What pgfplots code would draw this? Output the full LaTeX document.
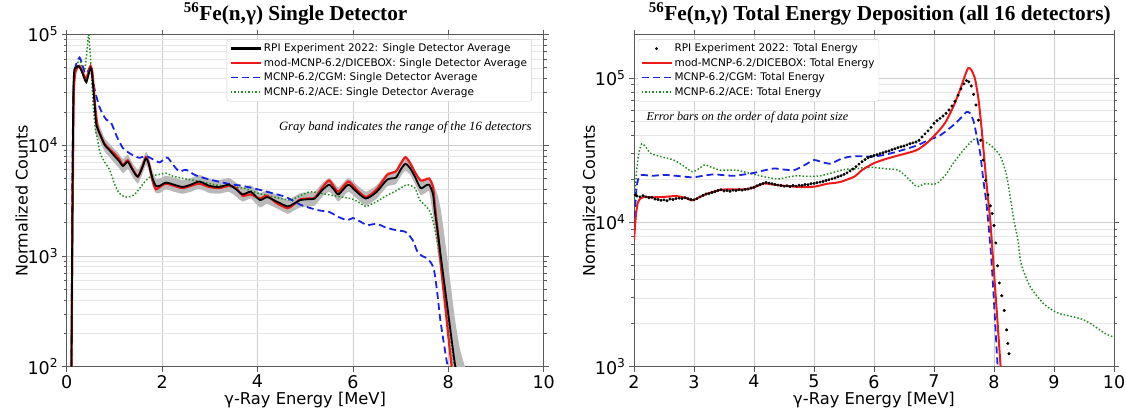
\documentclass[border=0pt]{standalone}
\usepackage{fontspec}
\setmainfont{DejaVu Sans}
\newfontfamily\titlefont{Liberation Serif}
\usepackage{pgfplots}
\pgfplotsset{compat=1.18}

\definecolor{mplred}{RGB}{240,25,25}
\definecolor{mplblue}{RGB}{25,35,230}
\definecolor{mplgreen}{RGB}{30,140,30}
\definecolor{gridmaj}{RGB}{205,205,205}
\definecolor{gridmin}{RGB}{230,230,230}
\definecolor{bandgray}{RGB}{185,185,185}

\tikzset{
  cgmline/.style={color=mplblue, line width=1.8pt, dash pattern=on 7pt off 4pt},
  aceline/.style={color=mplgreen, line width=1.5pt, dash pattern=on 1.5pt off 2pt},
}

\pgfplotsset{
  every axis/.append style={
  scale only axis, height=332.2pt,
  axis line style={draw=black!65, line width=0.8pt},
  tick align=outside,
  major tick length=5pt, minor tick length=3pt,
  every tick/.style={black!65, line width=0.7pt},
  xmajorgrids, ymajorgrids, yminorgrids,
  major grid style={gridmaj, line width=0.7pt},
  minor grid style={gridmin, line width=0.6pt},
  ticklabel style={font=\fontsize{17.5}{17.5}\selectfont},
  xlabel style={font=\fontsize{16.3}{16.3}\selectfont, yshift=3pt},
  ylabel style={font=\fontsize{16}{16}\selectfont, yshift=-7pt},
  xlabel={γ-Ray Energy [MeV]},
  ylabel={Normalized Counts},
  /pgf/number format/assume math mode=true,
  legend cell align=left,
  legend style={font=\fontsize{10.5}{12}\selectfont, draw=black!20, rounded corners=2pt, fill=white, inner sep=2.5pt, row sep=1pt},
  title style={font=\titlefont\bfseries\fontsize{21.3}{22}\selectfont, anchor=south, yshift=0pt},
  },
  legend image code/.code={\draw[mark repeat=2,mark phase=2,#1] plot coordinates {(0pt,0pt) (15pt,0pt) (30pt,0pt)};},
}

\begin{document}
\begin{tikzpicture}
\path[use as bounding box] (0,0) rectangle (1126pt,407pt);

% ---------------- Left axis ----------------
\begin{axis}[ymode=log, at={(66.7pt,40.3pt)}, anchor=south west, width=477pt,
  xmin=0, xmax=10, ymin=100, ymax=1e5, xtick={0,2,4,6,8,10},
  yticklabel={10\textsuperscript{\pgfmathparse{int(round(\tick/2.302585))}\pgfmathresult}},
  title={\textsuperscript{56}Fe(n,γ) Single Detector},
  title style={at={(0.48,1)}},
  legend style={at={(0.975,0.986)}, anchor=north east}]
\addlegendimage{color=black, line width=2.5pt}
\addlegendentry{RPI Experiment 2022: Single Detector Average}
\addlegendimage{color=mplred, line width=2.5pt}
\addlegendentry{mod-MCNP-6.2/DICEBOX: Single Detector Average}
\addlegendimage{cgmline}
\addlegendentry{MCNP-6.2/CGM: Single Detector Average}
\addlegendimage{aceline}
\addlegendentry{MCNP-6.2/ACE: Single Detector Average}

% gray band (range of 16 detectors)
\addplot[fill=bandgray, draw=none, forget plot, smooth, tension=0.3] coordinates {
(0.6,19000) (0.7,14500) (0.8,11500) (0.9,10300) (1.0,9200) (1.1,8300) (1.18,7500) (1.28,8200) (1.38,6900) (1.49,6000) (1.58,7100) (1.66,8700) (1.72,7800) (1.8,5800) (1.87,5000) (1.95,5000) (2.08,5300) (2.25,5100) (2.43,4850) (2.6,5050) (2.78,5400) (2.99,4950) (3.2,4850) (3.4,5050) (3.55,4600) (3.69,4150) (3.86,4350) (4.05,3700) (4.2,3900) (4.4,3550) (4.63,3200) (4.75,3400) (4.9,3700) (5.05,3750) (5.2,3800) (5.35,4500) (5.5,5050) (5.62,4500) (5.7,4150) (5.9,5050) (6.05,4500) (6.27,3800) (6.5,4350) (6.72,5650) (6.9,5850) (7.0,6900) (7.1,7800) (7.2,7100) (7.3,6000) (7.42,4700) (7.52,4950) (7.6,5050) (7.7,4300) (7.78,3500) (7.85,2500) (7.95,1200) (8.05,550) (8.15,250) (8.25,140) (8.35,100) (8.36,90)
(8.1,90) (8.05,150) (7.95,330) (7.85,700) (7.78,1050) (7.7,2000) (7.6,3800) (7.52,3700) (7.42,3550) (7.3,4500) (7.2,5400) (7.1,5900) (7.0,5200) (6.9,4450) (6.72,4250) (6.5,3300) (6.27,2850) (6.05,3400) (5.9,3800) (5.7,3100) (5.62,3400) (5.5,3800) (5.35,3400) (5.2,2850) (5.05,2800) (4.9,2750) (4.75,2550) (4.63,2400) (4.4,2700) (4.2,2950) (4.05,2750) (3.86,3300) (3.69,3100) (3.55,3450) (3.4,3800) (3.2,3650) (2.99,3700) (2.78,4050) (2.6,3800) (2.43,3650) (2.25,3800) (2.08,4000) (1.95,3700) (1.87,3700) (1.8,4300) (1.72,5900) (1.66,6600) (1.58,5400) (1.49,4500) (1.38,5200) (1.28,6100) (1.18,5600) (1.1,6200) (1.0,6900) (0.9,7800) (0.8,8700) (0.7,10800) (0.6,13000) (0.6,19000)
};

% green ACE
\addplot[aceline, forget plot, smooth, tension=0.4] coordinates {
(0.1,100) (0.12,5000) (0.14,30000) (0.18,50000) (0.23,55000) (0.27,60000) (0.32,52000) (0.38,48000) (0.43,75000) (0.46,100000) (0.5,60000) (0.55,25000) (0.6,14000) (0.65,11000) (0.7,8500) (0.8,7000) (0.9,6000) (1.0,4500) (1.1,3700) (1.2,3450) (1.28,3400) (1.38,3500) (1.45,3700) (1.55,4200) (1.66,4800) (1.78,5300) (1.9,5400) (2.08,5600) (2.2,5300) (2.36,5100) (2.55,4900) (2.7,4800) (2.9,4600) (3.1,4400) (3.27,4300) (3.5,4200) (3.75,4050) (4.0,3700) (4.3,3450) (4.5,3300) (4.7,3200) (4.9,3500) (5.1,3800) (5.3,3700) (5.6,3500) (5.95,3300) (6.1,3100) (6.27,2800) (6.4,2950) (6.5,3100) (6.7,3500) (6.87,3800) (7.0,4100) (7.14,4400) (7.3,4100) (7.4,3200) (7.5,2900) (7.62,2500) (7.7,1900) (7.79,1200) (7.87,700) (7.96,350) (8.05,180) (8.13,100)
};

% blue CGM
\addplot[cgmline, forget plot, smooth, tension=0.4] coordinates {
(0.1,100) (0.12,5000) (0.14,30000) (0.18,50000) (0.23,58000) (0.27,62000) (0.32,55000) (0.38,45000) (0.43,45000) (0.48,50000) (0.52,45000) (0.6,30000) (0.69,22000) (0.76,19000) (0.83,17000) (0.93,16000) (1.05,12000) (1.18,9400) (1.35,8300) (1.52,7700) (1.66,8000) (1.8,7500) (1.95,7000) (2.05,7600) (2.12,7700) (2.25,6500) (2.36,5800) (2.5,6000) (2.65,5500) (2.78,5200) (3.0,4900) (3.27,4600) (3.5,4400) (3.69,4300) (4.0,4000) (4.3,3700) (4.6,3400) (4.9,2900) (5.25,2600) (5.5,2500) (5.7,2250) (5.88,2100) (6.0,2200) (6.15,2050) (6.3,1900) (6.5,1950) (6.7,1800) (6.93,1700) (7.1,1650) (7.25,1400) (7.35,1100) (7.45,1000) (7.56,950) (7.65,850) (7.7,750) (7.76,500) (7.83,270) (7.9,170) (7.97,110) (7.99,100)
};

% red DICEBOX
\addplot[mplred, line width=2.2pt, forget plot, smooth, tension=0.4] coordinates {
(0.1,100) (0.13,5000) (0.15,30000) (0.18,45000) (0.22,50000) (0.27,52000) (0.32,47000) (0.37,42000) (0.41,40000) (0.46,46000) (0.5,52000) (0.54,45000) (0.6,22000) (0.65,14500) (0.72,12000) (0.8,10200) (0.9,9200) (1.0,8400) (1.1,7500) (1.18,6600) (1.28,7300) (1.38,6100) (1.49,5200) (1.58,6300) (1.66,7800) (1.72,6900) (1.8,4800) (1.87,4000) (1.95,4200) (2.08,4500) (2.25,4300) (2.43,4100) (2.6,4300) (2.78,4500) (2.99,4200) (3.2,4100) (3.4,4300) (3.55,4100) (3.69,3500) (3.86,3600) (4.05,3300) (4.2,3500) (4.4,3000) (4.63,2700) (4.75,2900) (4.9,3250) (5.05,3300) (5.2,3350) (5.35,4100) (5.5,4800) (5.62,4100) (5.7,3800) (5.9,4700) (6.05,4100) (6.27,3400) (6.5,4000) (6.72,5400) (6.9,5800) (7.0,6800) (7.1,7800) (7.2,6900) (7.3,5700) (7.42,4800) (7.52,4900) (7.6,5000) (7.68,4200) (7.72,2800) (7.79,1500) (7.86,700) (7.93,370) (8.0,190) (8.07,100)
};

% black experiment
\addplot[black, line width=1.8pt, forget plot, smooth, tension=0.4] coordinates {
(0.1,100) (0.12,3000) (0.14,30000) (0.16,48000) (0.2,50000) (0.24,52000) (0.28,50000) (0.32,46000) (0.37,40000) (0.41,37000) (0.45,42000) (0.5,50000) (0.53,45000) (0.58,25000) (0.62,15500) (0.7,12500) (0.8,10000) (0.9,9000) (1.0,8000) (1.1,7200) (1.18,6500) (1.28,7100) (1.38,6000) (1.49,5200) (1.58,6200) (1.66,7600) (1.72,6800) (1.8,5000) (1.87,4300) (1.95,4300) (2.08,4600) (2.25,4400) (2.43,4200) (2.6,4400) (2.78,4700) (2.99,4300) (3.2,4200) (3.4,4400) (3.55,4000) (3.69,3600) (3.86,3800) (4.05,3200) (4.2,3400) (4.4,3100) (4.63,2800) (4.75,2950) (4.9,3200) (5.05,3250) (5.2,3300) (5.35,3900) (5.5,4400) (5.62,3900) (5.7,3600) (5.9,4400) (6.05,3900) (6.27,3300) (6.5,3800) (6.72,4900) (6.9,5100) (7.0,6000) (7.1,6800) (7.2,6200) (7.3,5200) (7.42,4100) (7.52,4300) (7.6,4400) (7.68,3600) (7.72,2500) (7.79,1500) (7.86,870) (7.93,510) (8.0,300) (8.07,175) (8.14,105) (8.17,95)
};

\node[anchor=east, font=\titlefont\itshape\fontsize{12.7}{13}\selectfont] at (rel axis cs:0.982,0.719) {Gray band indicates the range of the 16 detectors};
\end{axis}

% ---------------- Right axis ----------------
\begin{axis}[ymode=log, at={(634pt,40.3pt)}, anchor=south west, width=480pt,
  xmin=2, xmax=10, ymin=1000, ymax=2e5, xtick={2,3,4,5,6,7,8,9,10},
  yticklabel={10\textsuperscript{\pgfmathparse{int(round(\tick/2.302585))}\pgfmathresult}},
  title={\textsuperscript{56}Fe(n,γ) Total Energy Deposition (all 16 detectors)},
  title style={at={(0.512,1)}},
  legend style={at={(0.008,0.986)}, anchor=north west}]
\addlegendimage{black, only marks, mark=*, mark size=1.2pt}
\addlegendentry{RPI Experiment 2022: Total Energy}
\addlegendimage{color=mplred, line width=2pt}
\addlegendentry{mod-MCNP-6.2/DICEBOX: Total Energy}
\addlegendimage{cgmline}
\addlegendentry{MCNP-6.2/CGM: Total Energy}
\addlegendimage{aceline}
\addlegendentry{MCNP-6.2/ACE: Total Energy}

% green ACE
\addplot[aceline, forget plot, smooth, tension=0.4] coordinates {
(2.0,12000) (2.04,22000) (2.08,30000) (2.13,35000) (2.2,33000) (2.28,30000) (2.45,28500) (2.66,27000) (2.8,25000) (2.97,22400) (3.08,23500) (3.18,25000) (3.3,24000) (3.43,23000) (3.7,23000) (3.9,22000) (4.1,21000) (4.3,20200) (4.43,20000) (4.55,20500) (4.7,21000) (4.9,20800) (5.1,21000) (5.3,22000) (5.5,23200) (5.7,23500) (5.85,24000) (5.99,24000) (6.2,23500) (6.4,23000) (6.55,20500) (6.71,17700) (6.85,18500) (7.04,18500) (7.2,21500) (7.32,25600) (7.5,32000) (7.68,38000) (7.8,37000) (7.95,34000) (8.1,29000) (8.2,22000) (8.27,15000) (8.33,10400) (8.4,7500) (8.45,5200) (8.6,3600) (8.84,2700) (9.07,2350) (9.43,2160) (9.6,2000) (9.85,1700) (10.0,1600)
};

% blue CGM
\addplot[cgmline, forget plot, smooth, tension=0.4] coordinates {
(2.0,9000) (2.04,17000) (2.08,20500) (2.13,21300) (2.3,21000) (2.5,21300) (2.7,21000) (2.97,20500) (3.15,21000) (3.33,21500) (3.5,21200) (3.67,21000) (3.85,21500) (4.0,22000) (4.15,22800) (4.33,23600) (4.5,23200) (4.67,23000) (4.85,25000) (5.0,27000) (5.15,26000) (5.28,25500) (5.45,27500) (5.6,28500) (5.8,28700) (5.99,28500) (6.2,29500) (6.4,31000) (6.71,34000) (6.9,37000) (7.1,40000) (7.32,47000) (7.45,53000) (7.54,58000) (7.6,57000) (7.66,50000) (7.72,38000) (7.77,30000) (7.82,20000) (7.88,12800) (7.95,6000) (8.0,2800) (8.06,1000)
};

% red DICEBOX
\addplot[mplred, line width=2pt, forget plot, smooth, tension=0.4] coordinates {
(2.0,7500) (2.03,11000) (2.06,13500) (2.1,14500) (2.17,15000) (2.3,14900) (2.5,15000) (2.7,15200) (2.85,14800) (2.97,14200) (3.1,15000) (3.22,15800) (3.44,16800) (3.6,16900) (3.89,17000) (4.05,17800) (4.17,18600) (4.3,18300) (4.56,17800) (4.89,17500) (5.05,17800) (5.22,18500) (5.43,19000) (5.67,20700) (5.8,23000) (5.99,25600) (6.2,27500) (6.4,29000) (6.71,31600) (6.9,36000) (7.1,44000) (7.2,50000) (7.32,63000) (7.43,82000) (7.52,105000) (7.57,117000) (7.62,114000) (7.68,100000) (7.74,72000) (7.79,46000) (7.84,27000) (7.88,17700) (7.94,10000) (8.0,4500) (8.06,2000) (8.11,1000)
};

% black experiment (points)
\addplot[black, only marks, mark=*, mark size=1.3pt, forget plot] coordinates {
(2.02,15500) (2.05,15200) (2.10,15000) (2.15,15300) (2.20,15000) (2.25,14800) (2.30,14900) (2.35,14500) (2.40,14400) (2.45,14200) (2.50,14300) (2.55,14100) (2.60,14500) (2.65,14400) (2.70,14600) (2.75,14700) (2.80,14600) (2.85,14800) (2.90,14600) (2.95,14400) (3.00,14300) (3.05,14600) (3.10,15000) (3.15,15400) (3.20,15700) (3.25,15800) (3.30,16100) (3.35,16300) (3.40,16600) (3.45,16800) (3.50,16500) (3.55,16600) (3.60,16400) (3.65,16700) (3.70,16600) (3.75,16800) (3.80,16700) (3.85,16900) (3.90,17000) (3.95,17300) (4.00,17500) (4.05,17900) (4.10,18300) (4.15,18600) (4.20,18900) (4.25,18700) (4.30,18500) (4.35,18300) (4.40,18100) (4.45,18000) (4.50,17800) (4.55,17900) (4.60,17700) (4.65,18000) (4.70,17800) (4.75,18100) (4.80,18000) (4.85,18300) (4.90,18200) (4.95,18500) (5.00,18600) (5.05,18800) (5.10,19000) (5.15,19200) (5.20,19500) (5.25,19700) (5.30,20000) (5.35,20300) (5.40,20700) (5.45,21000) (5.50,21500) (5.55,22000) (5.60,22700) (5.65,23400) (5.70,24300) (5.75,25300) (5.80,26300) (5.85,27200) (5.90,28000) (5.95,28600) (6.00,29000) (6.05,29400) (6.10,29900) (6.15,30300) (6.20,30800) (6.25,31200) (6.30,31800) (6.35,32300) (6.40,32900) (6.45,33400) (6.50,33800) (6.55,34400) (6.60,35000) (6.65,35500) (6.70,36000) (6.75,37000) (6.80,39000) (6.85,41000) (6.90,43000) (6.95,45500) (7.00,48500) (7.05,50500) (7.10,52500) (7.15,54500) (7.20,57000) (7.25,60000) (7.30,64000) (7.35,69000) (7.40,76000) (7.45,84000) (7.50,91000) (7.54,96000) (7.58,94000) (7.62,88000) (7.66,77000) (7.70,65000) (7.74,51000) (7.78,37000) (7.82,27000) (7.86,19500) (7.90,15500) (7.94,13000) (7.97,11500) (8.00,9500) (8.03,7200) (8.06,5000) (8.09,3800) (8.13,3100) (8.17,2450) (8.21,1800) (8.23,1450) (8.25,1230)
};

\node[anchor=west, font=\titlefont\itshape\fontsize{12.2}{13}\selectfont] at (rel axis cs:0.019,0.749) {Error bars on the order of data point size};
\end{axis}
\end{tikzpicture}
\end{document}
